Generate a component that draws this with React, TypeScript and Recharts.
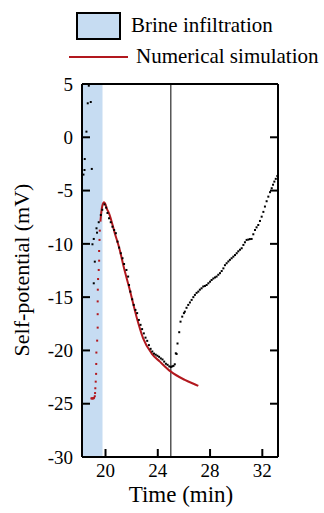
import React from 'react';
import { ComposedChart, XAxis, YAxis, Scatter, Line, ReferenceArea, ReferenceLine } from 'recharts';

// Measured self-potential (black dots)
const measTime = [
  18.31, 18.39, 18.41, 18.54, 18.64, 18.72, 18.87, 18.95,
  19.0, 19.1, 19.1, 19.18, 19.31, 19.35, 19.48, 19.64, 19.75, 19.92, 20.05, 20.15,
  20.27, 20.4, 20.53, 20.66, 20.79, 20.92, 21.04, 21.17, 21.3, 21.42, 21.6, 21.73,
  21.8, 21.9, 22.04, 22.16, 22.29, 22.42, 22.55, 22.68, 22.8, 22.93, 23.06, 23.19,
  23.32, 23.45, 23.58, 23.71, 23.84, 23.97, 24.1, 24.23, 24.36, 24.49, 24.62, 24.75,
  24.88, 25.0, 25.1, 25.2, 25.3,
  25.38, 25.44, 25.51, 25.64, 25.74, 25.87, 26.0, 26.07, 26.2, 26.33, 26.46, 26.59,
  26.72, 26.84, 26.97, 27.1, 27.22, 27.35, 27.48, 27.61, 27.74, 27.87, 28.0, 28.12,
  28.25, 28.38, 28.5, 28.63, 28.76, 28.89, 29.02, 29.14, 29.27, 29.4, 29.52, 29.65,
  29.78, 29.91, 30.04, 30.16, 30.29, 30.42, 30.55, 30.67, 30.8, 30.93, 31.05, 31.18,
  31.31, 31.44, 31.56, 31.69, 31.82, 31.95, 32.08, 32.2, 32.33, 32.46, 32.59, 32.72,
  32.82, 32.92, 33.03, 33.15,
];
const measSP = [
  -3.5, -3.07, -2.04, 0.53, 3.19, 4.84, 3.31, -2.97,
  -10.04, -13.7, -9.54, -11.67, -8.54, -8.95, -7.97, -7.29, -6.8, -6.3, -6.6, -7.1,
  -7.6, -7.97, -8.39, -8.7, -9.0, -9.79, -10.35, -10.88, -11.35, -11.89, -12.45, -13.07,
  -13.86, -14.48, -15.2, -15.73, -16.2, -16.5, -17.14, -17.6, -18.0, -18.4, -18.8, -19.1,
  -19.5, -19.85, -20.1, -20.3, -20.4, -20.5, -20.6, -20.75, -20.85, -21.05, -21.25, -21.35,
  -21.5, -21.55, -21.5, -21.45, -21.3,
  -20.27, -20.33, -19.35, -18.29, -17.3, -16.83, -16.5, -16.36, -16.0, -15.73, -15.5, -15.26,
  -15.0, -14.79, -14.6, -14.48, -14.3, -14.17, -14.0, -13.95, -13.86, -13.7, -13.55, -13.39,
  -13.25, -13.15, -13.07, -12.9, -12.75, -12.55, -12.3, -12.0, -11.82, -11.65, -11.5, -11.35,
  -11.2, -11.05, -10.88, -10.7, -10.55, -10.41, -10.1, -9.85, -9.63, -9.6, -9.55, -9.54,
  -9.1, -8.7, -8.45, -8.23, -7.85, -7.45, -7.0, -6.5, -6.0, -5.57, -5.15, -4.78,
  -4.45, -4.16, -3.9, -3.63,
];

// Numerical simulation, rising part (red markers)
const simRiseTime = [
  18.92, 18.97, 19.02, 19.07, 19.12, 19.18, 19.2, 19.22, 19.25, 19.28, 19.29, 19.3,
  19.36, 19.4, 19.4, 19.4, 19.41, 19.43, 19.48, 19.51, 19.51, 19.54, 19.56,
];
const simRiseSP = [
  -24.5, -24.5, -24.5, -24.5, -24.45, -24.3, -24.0, -23.55, -22.93, -22.2, -21.27, -20.2,
  -19.08, -17.86, -16.6, -15.4, -14.3, -13.3, -12.45, -11.58, -10.67, -9.63, -8.76,
];

// Numerical simulation, solid curve
const simTime = [19.61, 19.68, 19.76, 19.89, 20.0, 20.1, 20.27, 20.71, 21.09, 21.4, 21.82, 22.37, 22.88, 23.52, 24.16, 25.0, 26.07, 27.05, 27.1];
const simSP = [-7.92, -7.0, -6.4, -6.1, -6.3, -6.7, -7.13, -9.0, -10.57, -12.2, -14.15, -16.83, -18.86, -20.27, -21.05, -21.99, -22.77, -23.3, -23.33];

const xTicks = [20, 24, 28, 32];
const xTopTicks = [20.85, 25, 29.15];
const yTicks = [5, 0, -5, -10, -15, -20, -25, -30];
const brineEnd = 19.77;
const markerTime = 25;

const measData = measTime.map((t, i) => ({ t, v: measSP[i] }));
const riseData = simRiseTime.map((t, i) => ({ t, v: simRiseSP[i] }));
const simData = simTime.map((t, i) => ({ t, v: simSP[i] }));

const FONT = 'Liberation Serif, DejaVu Serif, serif';
const RED = '#b2181e';

const BlackDot = (p: any) => <rect x={p.cx - 1} y={p.cy - 1} width={2} height={2} fill="#000" />;
const RedDot = (p: any) => <rect x={p.cx - 1} y={p.cy - 1} width={2} height={2} fill={RED} />;

const tickStyle = { fontSize: 19, fontFamily: FONT, fill: '#000' };
const axisLine = { stroke: '#000', strokeWidth: 2 };
const tickLine = { stroke: '#000', strokeWidth: 2 };

export default function App() {
  return (
    <div style={{ position: 'absolute', left: 0, top: 0, width: 324, height: 513, background: '#fff', fontFamily: FONT }}>
      <ComposedChart width={324} height={513} margin={{ top: 74, right: 36, bottom: 26, left: 42 }} style={{ fontFamily: FONT }}>
        <XAxis dataKey="t" type="number" domain={[18.2, 33.2]} ticks={xTicks} allowDataOverflow
          axisLine={axisLine} tickLine={tickLine} tickSize={-8} tickMargin={15} tick={tickStyle} height={30} />
        <XAxis xAxisId="top" orientation="top" type="number" domain={[18.2, 33.2]} ticks={xTopTicks} allowDataOverflow
          axisLine={axisLine} tickLine={tickLine} tickSize={-8} tickFormatter={() => ''} height={10} />
        <YAxis type="number" domain={[-30, 5]} ticks={yTicks} allowDataOverflow
          axisLine={axisLine} tickLine={tickLine} tickSize={-8} tickMargin={17} tick={tickStyle} width={40} />
        <YAxis yAxisId="right" orientation="right" type="number" domain={[-30, 5]} ticks={yTicks} allowDataOverflow
          axisLine={axisLine} tickLine={tickLine} tickSize={-8} tickFormatter={() => ''} width={10} />
        <ReferenceArea x1={18.2} x2={brineEnd} y1={-30} y2={5} fill="#c6dcf2" fillOpacity={1} stroke="none" ifOverflow="hidden" />
        <ReferenceLine x={markerTime} stroke="#000" strokeWidth={1} />
        <Scatter data={measData} dataKey="v" shape={BlackDot} isAnimationActive={false} />
        <Scatter data={riseData} dataKey="v" shape={RedDot} isAnimationActive={false} />
        <Line data={simData} dataKey="v" type="monotone" stroke={RED} strokeWidth={2} dot={false} activeDot={false} isAnimationActive={false} />
      </ComposedChart>
      <svg width={324} height={513} style={{ position: 'absolute', left: 0, top: 0, pointerEvents: 'none' }}>
        <rect x={77} y={13} width={43} height={26} fill="#c6dcf2" stroke="#000" strokeWidth={2} />
        <text x={131} y={32} fontSize={21} fontFamily={FONT} fill="#000">Brine infiltration</text>
        <line x1={69} y1={57} x2={128} y2={57} stroke={RED} strokeWidth={2} />
        <text x={136} y={63} fontSize={21} fontFamily={FONT} fill="#000">Numerical simulation</text>
        <text x={181} y={502} fontSize={23} fontFamily={FONT} fill="#000" textAnchor="middle">Time (min)</text>
        <text x={29} y={270} fontSize={22} fontFamily={FONT} fill="#000" textAnchor="middle" transform="rotate(-90, 29, 270)">Self-potential (mV)</text>
      </svg>
    </div>
  );
}
